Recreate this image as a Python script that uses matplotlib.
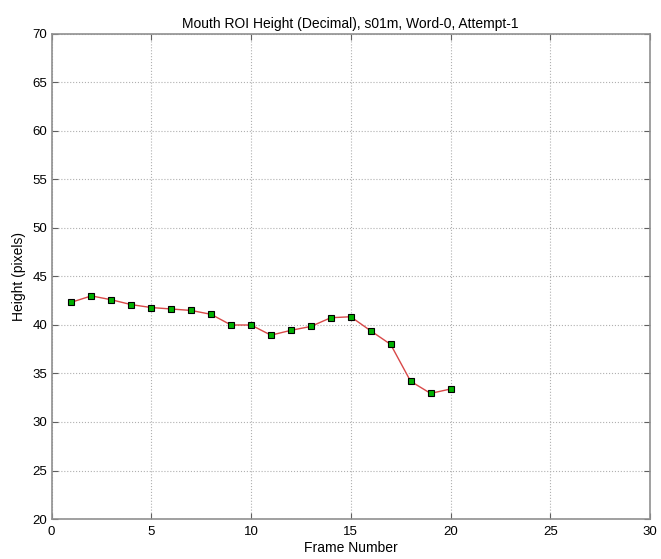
import matplotlib
matplotlib.use('Agg')
import matplotlib.pyplot as plt

# Frame numbers and mouth ROI heights
frames = list(range(1, 21))
height = [42.35, 43.0, 42.6, 42.1, 41.8, 41.65, 41.5, 41.1, 40.0, 40.0,
          38.95, 39.45, 39.85, 40.75, 40.85, 39.4, 38.0, 34.2, 32.95, 33.4]

x_ticks = [0, 5, 10, 15, 20, 25, 30]
y_ticks = [20, 25, 30, 35, 40, 45, 50, 55, 60, 65, 70]

plt.rcParams['font.family'] = ['Liberation Sans', 'DejaVu Sans']
plt.rcParams['font.size'] = 10

fig = plt.figure(figsize=(6.61, 5.59), dpi=100)
# axes box: x 51..650 px, y 34..519 px
ax = fig.add_axes([51.5 / 661, 1 - 519 / 559, (650 - 51.5) / 661, (519 - 34) / 559])

ax.plot(frames, height, color='#d84848', linewidth=1.0,
        marker='s', markersize=5, markerfacecolor='#00b000',
        markeredgecolor='black', markeredgewidth=0.8)

ax.set_xlim(0, 30)
ax.set_ylim(20, 70)
ax.set_xticks(x_ticks)
ax.set_yticks(y_ticks)
ax.grid(True, linestyle=':', color='#b0b0b0', linewidth=0.8)
ax.tick_params(direction='in', top=True, right=True, length=4, color='#606060',
               labelsize=9.5)
ax.tick_params(axis='x', pad=5)
ax.tick_params(axis='y', pad=3)
for s in ax.spines.values():
    s.set_color('#909090')
    s.set_linewidth(1.2)

ax.set_title('Mouth ROI Height (Decimal), s01m, Word-0, Attempt-1', fontsize=10, pad=4)
ax.set_xlabel('Frame Number', fontsize=10, labelpad=2)
ax.set_ylabel('Height (pixels)', fontsize=10, labelpad=5)

fig.savefig('out.png', dpi=100)
